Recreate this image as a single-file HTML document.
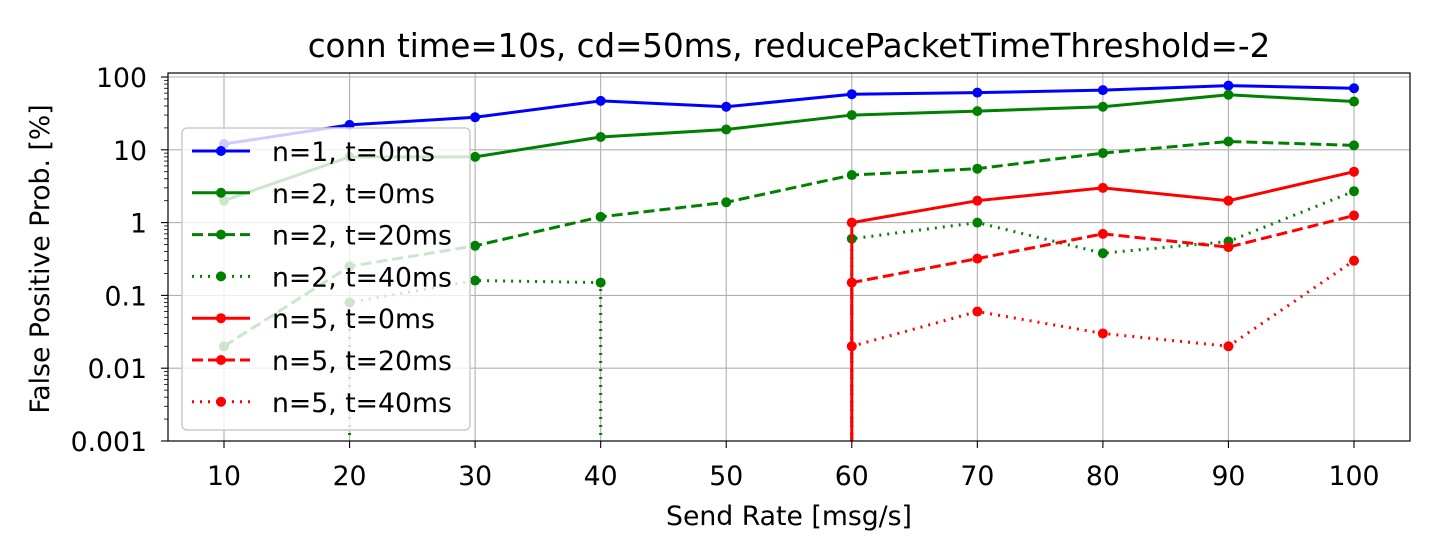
<!DOCTYPE html>
<html><head><meta charset="utf-8"><style>
html,body{margin:0;background:#fff;overflow:hidden;width:1440px;height:560px;}
svg{display:block;font-family:"DejaVu Sans","Liberation Sans",sans-serif;}
</style></head><body>
<svg id="chart" width="1440" height="560" viewBox="0 0 1440 560">
<text x="789" y="57" font-size="32.5" text-anchor="middle">conn time=10s, cd=50ms, reducePacketTimeThreshold=-2</text>
<g id="grid"></g>
<g id="series"></g>
<g id="axes"></g>
<g id="legend"></g>
<text x="789" y="525" font-size="26.7" text-anchor="middle">Send Rate [msg/s]</text>
<text transform="translate(49,259) rotate(-90)" font-size="26.7" text-anchor="middle">False Positive Prob. [%]</text>
</svg>
<script>
const categories=[10,20,30,40,50,60,70,80,90,100];
const n1t0=[12,22,28,47,39,58,61,66,76,70];
const n2t0=[2,8,8,15,19,30,34,39,57,46];
const n2t20=[0.02,0.25,0.48,1.2,1.9,4.5,5.5,9,13,11.5];
const n2t40=[0,0.08,0.16,0.15,0,0.6,1.0,0.38,0.55,2.7];
const n5t0=[0,0,0,0,0,1,2,3,2,5];
const n5t20=[0,0,0,0,0,0.15,0.32,0.7,0.46,1.25];
const n5t40=[0,0,0,0,0,0.02,0.06,0.03,0.02,0.3];
const yTicks=[0.001,0.01,0.1,1,10,100];
const yTickLabels=["0.001","0.01","0.1","1","10","100"];
const seriesNames=["n=1, t=0ms","n=2, t=0ms","n=2, t=20ms","n=2, t=40ms","n=5, t=0ms","n=5, t=20ms","n=5, t=40ms"];

const NS="http://www.w3.org/2000/svg";
const L=168,R=1410,T=73,B=441;
const xS=v=>224+(v-10)*(1354-224)/90;
const yS=v=>441-(Math.log10(v)+3)*72.8;
function mk(tag,attrs,parent){const e=document.createElementNS(NS,tag);for(const k in attrs)e.setAttribute(k,attrs[k]);parent.appendChild(e);return e;}
const grid=document.getElementById('grid'),axes=document.getElementById('axes'),ser=document.getElementById('series'),leg=document.getElementById('legend');
categories.forEach(c=>{
 const g=mk('line',{x1:xS(c),x2:xS(c),y1:T,y2:B,stroke:'#b0b0b0','stroke-width':1.1},grid);
 
 const t=mk('line',{x1:xS(c),x2:xS(c),y1:B,y2:B+7,stroke:'#000','stroke-width':1.1},axes);
 
 const tx=mk('text',{x:xS(c),y:B+44,'font-size':26.7,'text-anchor':'middle'},axes);tx.textContent=c;
 
});
yTicks.forEach((v,i)=>{
 const g=mk('line',{x1:L,x2:R,y1:yS(v),y2:yS(v),stroke:'#b0b0b0','stroke-width':1.1},grid);
 
 const t=mk('line',{x1:L-7,x2:L,y1:yS(v),y2:yS(v),stroke:'#000','stroke-width':1.1},axes);
 
 const tx=mk('text',{x:L-21,y:yS(v)+10,'font-size':26.7,'text-anchor':'end'},axes);tx.textContent=yTickLabels[i];
 
 if(i<yTicks.length-1){for(let m=2;m<10;m++){const mv=v*m;const mt=mk('line',{x1:L-4,x2:L,y1:yS(mv),y2:yS(mv),stroke:'#000','stroke-width':0.8},axes);
 }}
});
const fr=mk('rect',{x:L,y:T,width:R-L,height:B-T,fill:'none',stroke:'#000','stroke-width':1.2},axes);


const defs=[[n1t0,'#0000ff',''],[n2t0,'#008000',''],[n2t20,'#008000','11 5'],[n2t40,'#008000','2 6'],[n5t0,'#ff0000',''],[n5t20,'#ff0000','11 5'],[n5t40,'#ff0000','2 6']];
const cp=mk('clipPath',{id:'clip'},ser);mk('rect',{x:L,y:T,width:R-L,height:B-T},cp);
defs.forEach((d,si)=>{
 const [vals,col,dash]=d;
 const g=mk('g',{'clip-path':'url(#clip)'},ser);
 
 
 let p='';let pen=false;
 for(let i=0;i<vals.length;i++){
  const x=xS(categories[i]);
  if(vals[i]>0){p+=(pen?'L':'M')+x+' '+yS(vals[i])+' ';pen=true;}
  else{
   if(i>0&&vals[i-1]>0){p+='L'+xS(categories[i-1])+' '+(B+50)+' ';}
   if(i+1<vals.length&&vals[i+1]>0){p+='M'+xS(categories[i+1])+' '+(B+50)+' ';pen=true;}
   else pen=false;
  }
 }
 const path=mk('path',{d:p,fill:'none',stroke:col,'stroke-width':3,'stroke-dasharray':dash},g);
 
 vals.forEach((v,i)=>{if(v>0){const c=mk('circle',{cx:xS(categories[i]),cy:yS(v),r:5,fill:col},g);
  }});
});
const lb=mk('rect',{x:182,y:128,width:288,height:302,rx:5,fill:'#fff','fill-opacity':0.8,stroke:'#cccccc','stroke-width':1.5},leg);

defs.forEach((d,i)=>{
 const y=151+i*41.8;
 const g=mk('g',{},leg);
 
 mk('line',{x1:192,x2:250,y1:y,y2:y,stroke:d[1],'stroke-width':3,'stroke-dasharray':d[2]},g);
 mk('circle',{cx:221,cy:y,r:5,fill:d[1]},g);
 const t=mk('text',{x:272,y:y+10,'font-size':26.7},g);t.textContent=seriesNames[i];
});
</script>
</body></html>
